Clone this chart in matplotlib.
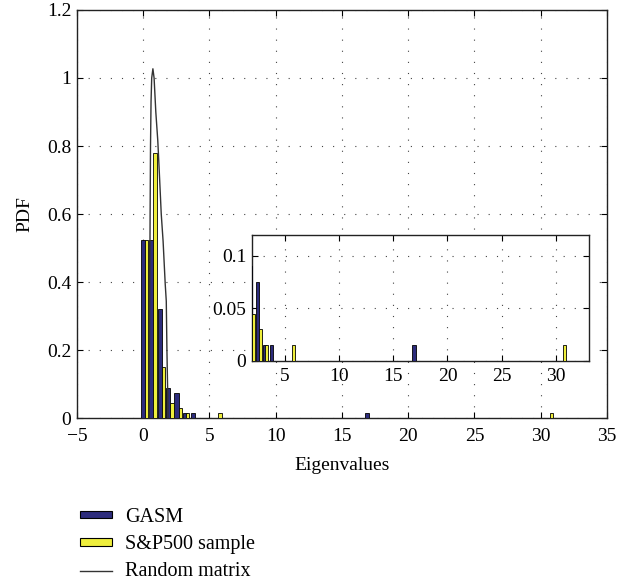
import numpy as np
import matplotlib.pyplot as plt
from matplotlib.patches import Patch
from matplotlib.lines import Line2D

# histogram bars (bin centres, PDF heights)
gasm_x = [0.0, 0.63, 1.26, 1.89, 2.52, 3.15, 3.78, 16.9]
gasm_y = [0.525, 0.525, 0.32, 0.09, 0.075, 0.015, 0.015, 0.015]
sp_x = [0.27, 0.90, 1.53, 2.16, 2.79, 3.35, 5.8, 30.8]
sp_y = [0.525, 0.78, 0.15, 0.045, 0.03, 0.015, 0.015, 0.015]

# random matrix curve
rm_x = [0.45, 0.49, 0.52, 0.55, 0.59, 0.64, 0.73, 0.82, 0.95, 1.1, 1.21,
        1.36, 1.5, 1.66, 1.74, 1.79, 1.84, 1.87]
rm_y = [0.0, 0.35, 0.6, 0.8, 0.93, 1.0, 1.027, 1.0, 0.9, 0.815, 0.726,
        0.6, 0.52, 0.394, 0.344, 0.197, 0.088, 0.0]

dark = '#2d2c7c'
yellow = '#eeee3c'
plt.rcParams['font.family'] = 'Liberation Serif'
plt.rcParams['font.size'] = 14

fig = plt.figure(figsize=(6.33, 5.84), dpi=100)
ax = fig.add_axes([0.1216, 0.284, 0.8373, 0.699])

dots = (0, (1, 9))


def draw(a):
    a.bar(gasm_x, gasm_y, width=0.32, color=dark, edgecolor='black', linewidth=0.6, zorder=3)
    a.bar(sp_x, sp_y, width=0.25, color=yellow, edgecolor='black', linewidth=0.6, zorder=3)
    a.grid(True, linestyle=dots, color='#444444', linewidth=0.8)
    a.tick_params(direction='in', top=True, right=True, length=4, width=0.8, pad=4)
    a.tick_params(axis='x', pad=7)
    for s in a.spines.values():
        s.set_linewidth(1.0)
        s.set_color('#222222')


draw(ax)
ax.plot(rm_x, rm_y, color='#333333', linewidth=1.0, zorder=4)
ax.set_xlim(-5, 35)
ax.set_ylim(0, 1.2)
ax.set_xticks(range(-5, 36, 5))
ax.set_xticklabels(['\u22125'] + [str(v) for v in range(0, 36, 5)])
ax.set_yticks([0, 0.2, 0.4, 0.6, 0.8, 1.0, 1.2])
ax.set_yticklabels(['0', '0.2', '0.4', '0.6', '0.8', '1', '1.2'])
ax.set_xlabel('Eigenvalues', labelpad=9)
ax.set_ylabel('PDF', labelpad=10)

# zoomed inset
ins = fig.add_axes([0.398, 0.382, 0.532, 0.216])
ins.set_facecolor('white')
draw(ins)
ins.tick_params(axis='x', pad=5)
ins.set_xlim(2, 33)
ins.set_ylim(0, 0.12)
ins.set_xticks([5, 10, 15, 20, 25, 30])
ins.set_yticks([0, 0.05, 0.1])
ins.set_yticklabels(['0', '0.05', '0.1'])

handles = [Patch(facecolor=dark, edgecolor='black', linewidth=0.8),
           Patch(facecolor=yellow, edgecolor='black', linewidth=0.8),
           Line2D([], [], color='#333333', linewidth=1.0)]
fig.legend(handles, ['GASM', 'S&P500 sample', 'Random matrix'],
           loc='upper left', bbox_to_anchor=(0.104, 0.155), frameon=False,
           handlelength=1.6, handleheight=0.2, labelspacing=0.42,
           handletextpad=0.65, fontsize=14.5, borderpad=0.2)

fig.savefig('out.png', dpi=100)
